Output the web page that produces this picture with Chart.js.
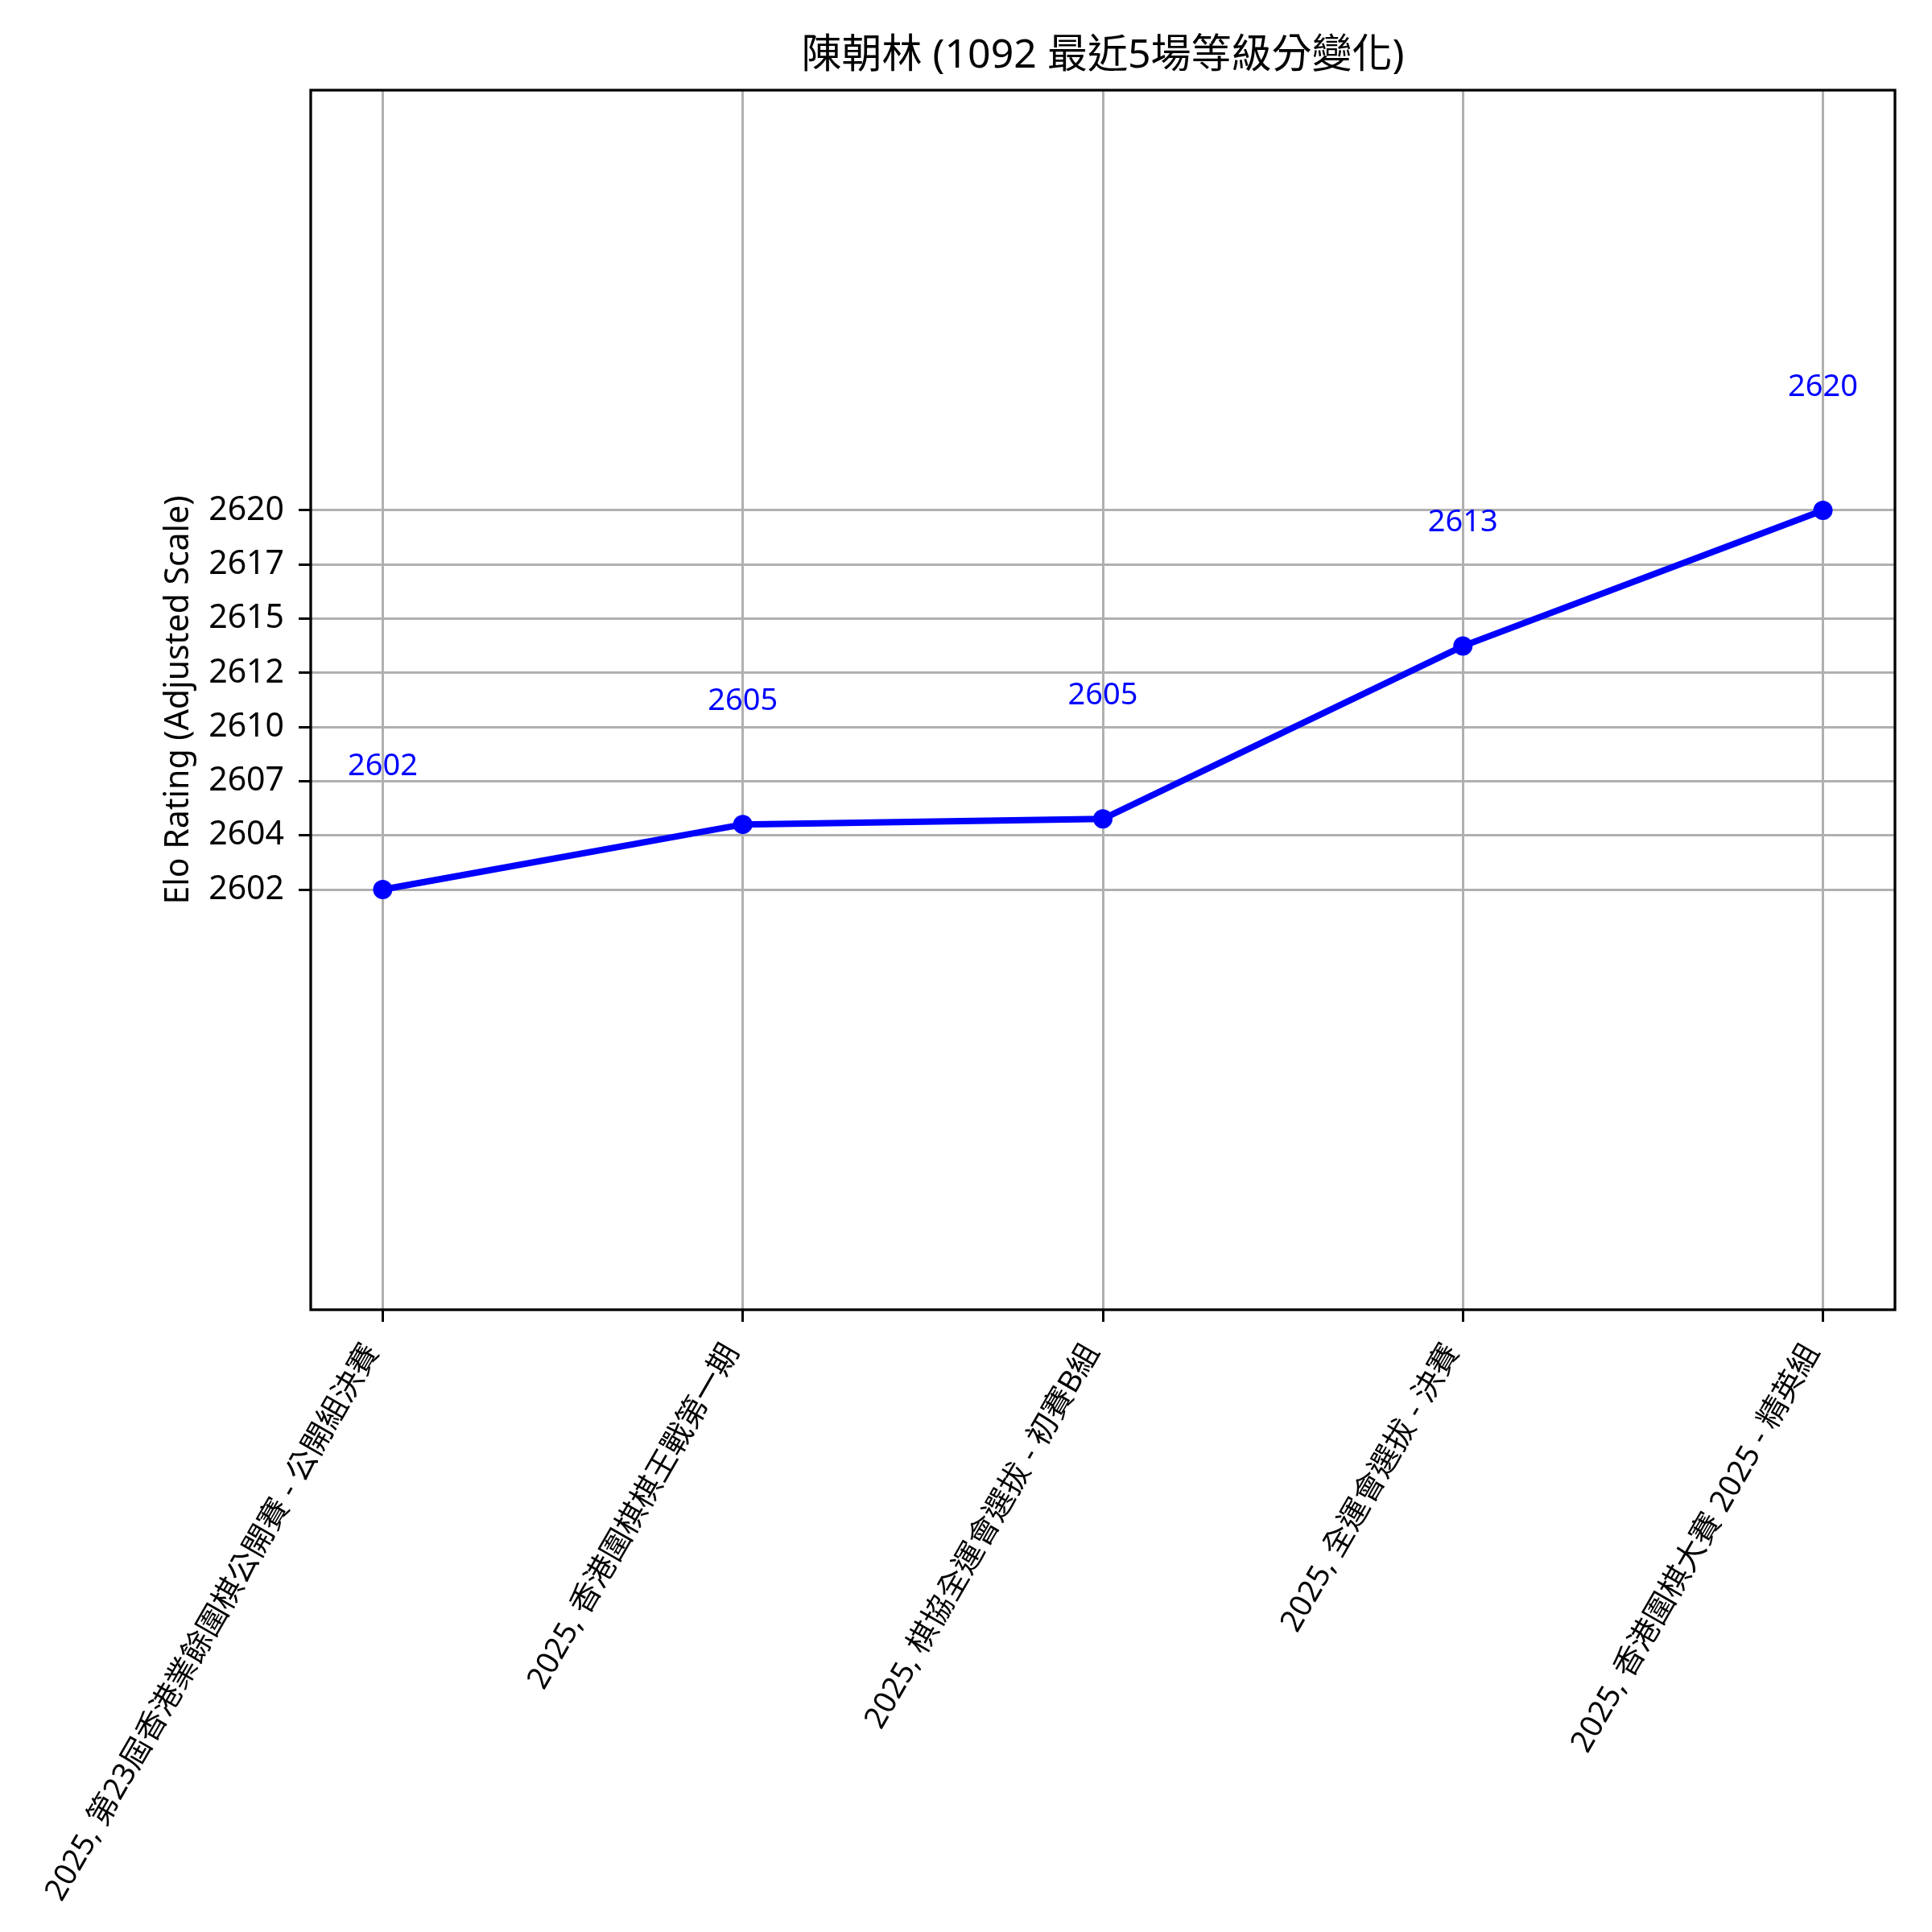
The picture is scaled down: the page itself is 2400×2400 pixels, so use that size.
<!DOCTYPE html>
<html>
<head>
<meta charset="utf-8">
<script src="https://cdn.jsdelivr.net/npm/chart.js@4.4.0/dist/chart.umd.min.js"></script>
<style>
  body { margin: 0; background: #fff; }
</style>
</head>
<body>
<canvas id="eloChart" width="2400" height="2400"></canvas>
<script>
// data
const events = [
  '2025, 第23屆香港業餘圍棋公開賽 - 公開組決賽',
  '2025, 香港圍棋棋王戰第一期',
  '2025, 棋協全運會選拔 - 初賽B組',
  '2025, 全運會選拔 - 決賽',
  '2025, 香港圍棋大賽 2025 - 精英組'
];
const ratings = [2602.3, 2605.4, 2605.66, 2613.89, 2620.35];
const ratingLabels = ['2602', '2605', '2605', '2613', '2620'];
const yTickLabels = ['2602', '2604', '2607', '2610', '2612', '2615', '2617', '2620'];
const chartTitle = '陳朝林 (1092 最近5場等級分變化)';
const yAxisTitle = 'Elo Rating (Adjusted Scale)';

const lo = Math.min(...ratings);
const hi = Math.max(...ratings);
const FONT = '"Noto Sans", "Noto Sans CJK TC", sans-serif';

// title, axis title, frame and value labels
const extrasPlugin = {
  id: 'extras',
  afterDraw(chart) {
    const { ctx, chartArea: a, scales: { x, y } } = chart;
    ctx.save();
    ctx.strokeStyle = '#000';
    ctx.lineWidth = 3.3;
    ctx.strokeRect(a.left, a.top, a.right - a.left, a.bottom - a.top);

    ctx.fillStyle = '#000';
    ctx.textAlign = 'center';
    ctx.textBaseline = 'middle';
    ctx.font = '50px ' + FONT;
    ctx.fillText(chartTitle, (a.left + a.right) / 2, a.top - 42);

    ctx.font = '41px ' + FONT;
    ctx.translate(a.left - 164, (a.top + a.bottom) / 2);
    ctx.rotate(-Math.PI / 2);
    ctx.fillText(yAxisTitle, 0, 0);
    ctx.restore();

    ctx.save();
    ctx.fillStyle = '#0000ff';
    ctx.textAlign = 'center';
    ctx.textBaseline = 'middle';
    ctx.font = '38px ' + FONT;
    ratings.forEach((v, i) => {
      ctx.fillText(ratingLabels[i], x.getPixelForValue(i), y.getPixelForValue(v) - 153);
    });
    ctx.restore();
  }
};

const eloChart = new Chart(document.getElementById('eloChart'), {
  type: 'line',
  data: {
    datasets: [{
      data: ratings.map((v, i) => ({ x: i, y: v })),
      borderColor: '#0000ff',
      backgroundColor: '#0000ff',
      borderWidth: 8,
      pointRadius: 12,
      pointBorderWidth: 0,
      pointBackgroundColor: '#0000ff',
      tension: 0
    }]
  },
  options: {
    responsive: false,
    animation: false,
    devicePixelRatio: 1,
    layout: { padding: { top: 112, right: 46, left: 0, bottom: 0 } },
    plugins: {
      legend: { display: false },
      title: { display: false },
      tooltip: { enabled: false }
    },
    scales: {
      x: {
        type: 'linear',
        min: -0.2,
        max: 4.2,
        afterBuildTicks: (scale) => {
          scale.ticks = events.map((_, i) => ({ value: i }));
        },
        afterFit: (scale) => {
          scale.height = 773;
          scale.paddingLeft = 0;
          scale.paddingRight = 0;
        },
        ticks: {
          autoSkip: false,
          minRotation: 60,
          maxRotation: 60,
          padding: 20,
          labelOffset: -13,
          color: '#000',
          font: { size: 38, family: FONT },
          callback: (v) => events[v]
        },
        grid: {
          color: '#b0b0b0',
          lineWidth: 3,
          tickColor: '#000',
          tickLength: 15,
          tickWidth: 3
        },
        border: { display: false }
      },
      y: {
        min: lo - 20,
        max: hi + 20,
        afterBuildTicks: (scale) => {
          const n = yTickLabels.length;
          scale.ticks = yTickLabels.map((_, i) => ({ value: lo + (hi - lo) * i / (n - 1) }));
        },
        afterFit: (scale) => {
          scale.width = 386;
          scale.paddingTop = 0;
          scale.paddingBottom = 0;
        },
        ticks: {
          padding: 18,
          color: '#000',
          font: { size: 41, family: FONT },
          callback: (v, i) => yTickLabels[i]
        },
        grid: {
          color: '#b0b0b0',
          lineWidth: 3,
          tickColor: '#000',
          tickLength: 15,
          tickWidth: 3
        },
        border: { display: false }
      }
    }
  },
  plugins: [extrasPlugin]
});
</script>
</body>
</html>
